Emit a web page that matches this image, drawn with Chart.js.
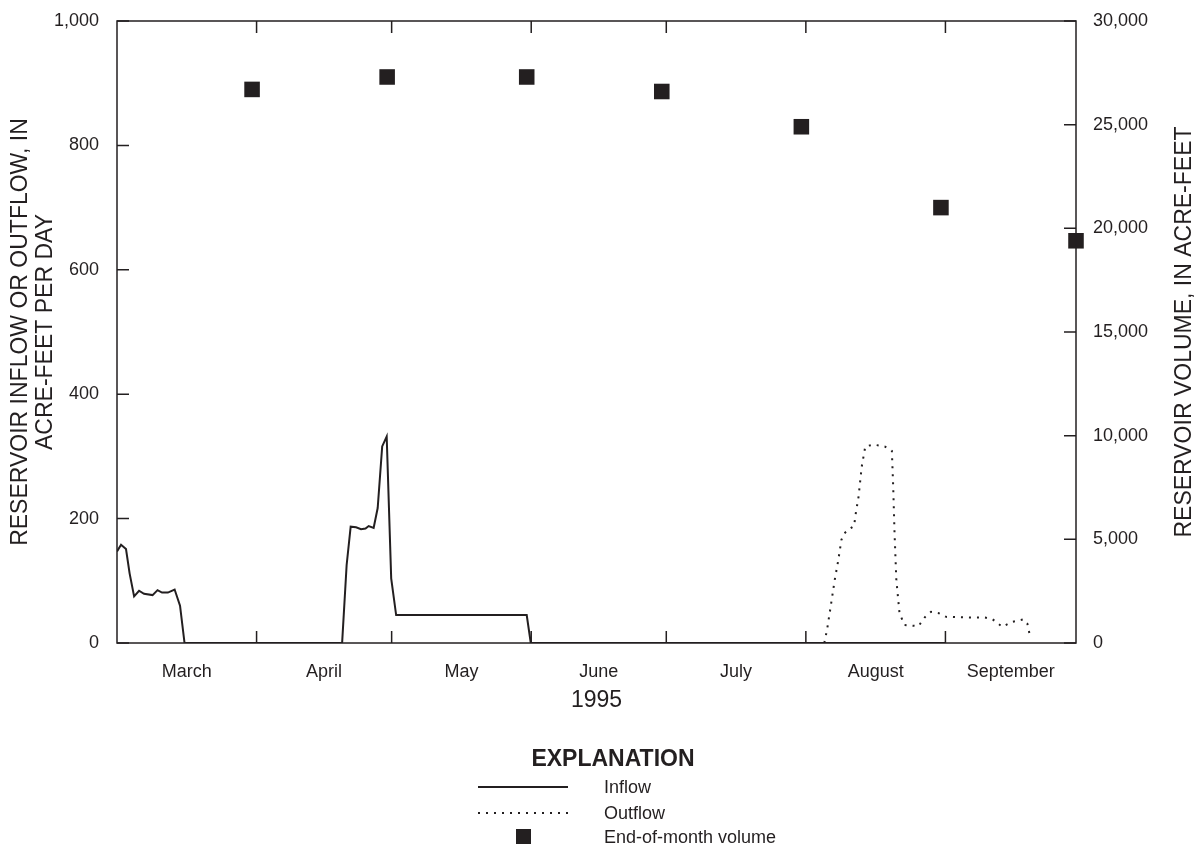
<!DOCTYPE html>
<html>
<head>
<meta charset="utf-8">
<script src="https://cdn.jsdelivr.net/npm/chart.js@4.4.1/dist/chart.umd.min.js"></script>
<style>
  body { margin: 0; background: #fff; font-family: "Liberation Sans", Arial, Helvetica, sans-serif; color: #231f20; }
  #wrap { position: relative; width: 1204px; height: 844px; overflow: hidden; }
  #grafico { position: absolute; left: 0; top: 0; }
  .leyenda { position: absolute; white-space: nowrap; }
  #titulo { left: 613px; top: 758px; transform: translate(-50%, -50%); font-weight: bold; font-size: 23px; }
  .etq { left: 604px; font-size: 18px; transform: translateY(-50%); }
  .muestra { position: absolute; left: 478px; width: 90px; height: 4px; }
</style>
</head>
<body>
<div id="wrap">
  <canvas id="grafico" width="1204" height="844"></canvas>
  <div class="leyenda" id="titulo">EXPLANATION</div>
  <svg class="muestra" style="top:785px"><line x1="0" y1="2" x2="90" y2="2" stroke="#231f20" stroke-width="2"/></svg>
  <div class="leyenda etq" style="top:787px">Inflow</div>
  <svg class="muestra" style="top:811px"><line x1="0" y1="2" x2="90" y2="2" stroke="#231f20" stroke-width="2" stroke-dasharray="2 6"/></svg>
  <div class="leyenda etq" style="top:813px">Outflow</div>
  <div style="position:absolute; left:516px; top:829px; width:15px; height:15px; background:#231f20"></div>
  <div class="leyenda etq" style="top:837px">End-of-month volume</div>
</div>
<script>
// Meses (dia 0 = 1 de marzo de 1995, el eje termina el 30 de septiembre)
const monthNames = ["March", "April", "May", "June", "July", "August", "September"];
const monthStarts = [0, 31, 61, 92, 122, 153, 184, 213];

// Entrada diaria (acre-pies por dia)
const inflowDays = [0, 0.9, 2, 2.8, 3.8, 4.9, 6, 7.9, 9, 10, 11.3, 12.8, 14, 15,
  50, 51, 51.9, 53.1, 54.2, 55.2, 55.9, 57, 57.9, 58.9, 59.9, 60.9, 62, 91, 91.9, 184];
const inflowValues = [147, 158, 151, 112, 75, 84, 79, 77, 85, 81, 81, 86, 60, 0,
  0, 125, 187, 186, 183, 184, 188, 185, 217, 316, 332, 104, 45, 45, 0, 0];

// Salida diaria (acre-pies por dia)
const outflowDays = [157.1, 157.7, 158.5, 159.4, 160.2, 160.9, 161.5, 162.4, 163.7, 164.1, 164.7, 165.4,
  166.2, 168, 170.5, 172.1, 172.4, 172.7, 173.1, 173.8, 174.9, 178, 179.5, 180.8, 182.5, 184.2,
  189.3, 192.8, 194.5, 196.6, 198.8, 201.3, 202.2, 202.9];
const outflowValues = [0, 21, 58, 101, 133, 166, 176, 182, 188, 209, 235, 283,
  316, 319, 316, 309, 251, 176, 101, 48, 29, 27, 42, 50, 48, 42,
  41, 41, 38, 26, 34, 38, 31, 7];

// Volumen a fin de mes (acre-pies)
const volumeDays = [30, 60, 91, 121, 152, 183, 213];
const volumeValues = [26700, 27300, 27300, 26600, 24900, 21000, 19400];

const tinta = "#231f20";
const fuente = "'Liberation Sans', Arial, Helvetica, sans-serif";

const aPuntos = (xs, ys) => xs.map((x, i) => ({ x, y: ys[i] }));

// Marco, marcas interiores y titulo del eje derecho
const marcoPlugin = {
  id: "marco",
  afterDraw(chart) {
    const { ctx, chartArea: a, scales } = chart;
    ctx.save();
    ctx.strokeStyle = tinta;
    ctx.lineWidth = 1.5;
    ctx.strokeRect(a.left, a.top, a.right - a.left, a.bottom - a.top);
    ctx.beginPath();
    monthStarts.slice(1, -1).forEach(d => {
      const x = scales.x.getPixelForValue(d);
      ctx.moveTo(x, a.top); ctx.lineTo(x, a.top + 12);
      ctx.moveTo(x, a.bottom); ctx.lineTo(x, a.bottom - 12);
    });
    scales.y.ticks.forEach(t => {
      const y = scales.y.getPixelForValue(t.value);
      ctx.moveTo(a.left, y); ctx.lineTo(a.left + 12, y);
    });
    scales.y1.ticks.forEach(t => {
      const y = scales.y1.getPixelForValue(t.value);
      ctx.moveTo(a.right, y); ctx.lineTo(a.right - 12, y);
    });
    ctx.stroke();

    ctx.translate(1185, (a.top + a.bottom) / 2);
    ctx.rotate(-Math.PI / 2);
    ctx.fillStyle = tinta;
    ctx.font = "23px " + fuente;
    ctx.textAlign = "center";
    ctx.textBaseline = "middle";
    ctx.fillText("RESERVOIR VOLUME, IN ACRE-FEET", 0, 0);
    ctx.restore();
  }
};

new Chart(document.getElementById("grafico"), {
  type: "scatter",
  data: {
    datasets: [
      {
        label: "End-of-month volume",
        data: aPuntos(volumeDays, volumeValues),
        yAxisID: "y1",
        pointStyle: "rect",
        pointRadius: 11,
        pointHoverRadius: 11,
        backgroundColor: tinta,
        borderColor: tinta,
        borderWidth: 0,
        clip: false,
        order: 0
      },
      {
        label: "Inflow",
        data: aPuntos(inflowDays, inflowValues),
        yAxisID: "y",
        showLine: true,
        borderColor: tinta,
        borderWidth: 2,
        pointRadius: 0,
        tension: 0,
        order: 1
      },
      {
        label: "Outflow",
        data: aPuntos(outflowDays, outflowValues),
        yAxisID: "y",
        showLine: true,
        borderColor: tinta,
        borderWidth: 2,
        borderDash: [2, 6],
        pointRadius: 0,
        tension: 0,
        order: 2
      }
    ]
  },
  options: {
    responsive: false,
    animation: false,
    layout: { padding: { top: 21, left: 0, right: 0, bottom: 0 } },
    plugins: { legend: { display: false }, tooltip: { enabled: false } },
    scales: {
      x: {
        type: "linear",
        min: 0,
        max: 213,
        grid: { display: false },
        border: { display: false },
        afterBuildTicks: s => {
          s.ticks = monthNames.map((m, i) => ({ value: (monthStarts[i] + monthStarts[i + 1]) / 2 }));
        },
        afterFit: s => { s.height = 201; },
        ticks: {
          autoSkip: false,
          maxRotation: 0,
          padding: 10,
          color: tinta,
          font: { family: fuente, size: 18 },
          callback: (v, i) => monthNames[i]
        },
        title: {
          display: true,
          text: "1995",
          color: tinta,
          font: { family: fuente, size: 23 },
          padding: { top: 0, bottom: 130 }
        }
      },
      y: {
        position: "left",
        min: 0,
        max: 1000,
        grid: { display: false },
        border: { display: false },
        afterFit: s => { s.width = 117; },
        ticks: {
          stepSize: 200,
          padding: 10,
          color: tinta,
          font: { family: fuente, size: 18 },
          callback: v => v.toLocaleString("en-US")
        },
        title: {
          display: true,
          text: ["RESERVOIR INFLOW OR OUTFLOW, IN", "ACRE-FEET PER DAY"],
          color: tinta,
          font: { family: fuente, size: 23, lineHeight: 1.1 },
          padding: { top: 8, bottom: 0 }
        }
      },
      y1: {
        position: "right",
        min: 0,
        max: 30000,
        grid: { display: false },
        border: { display: false },
        afterFit: s => { s.width = 128; },
        ticks: {
          stepSize: 5000,
          padding: 9,
          color: tinta,
          font: { family: fuente, size: 18 },
          callback: v => v.toLocaleString("en-US")
        }
      }
    }
  },
  plugins: [marcoPlugin]
});
</script>
</body>
</html>
